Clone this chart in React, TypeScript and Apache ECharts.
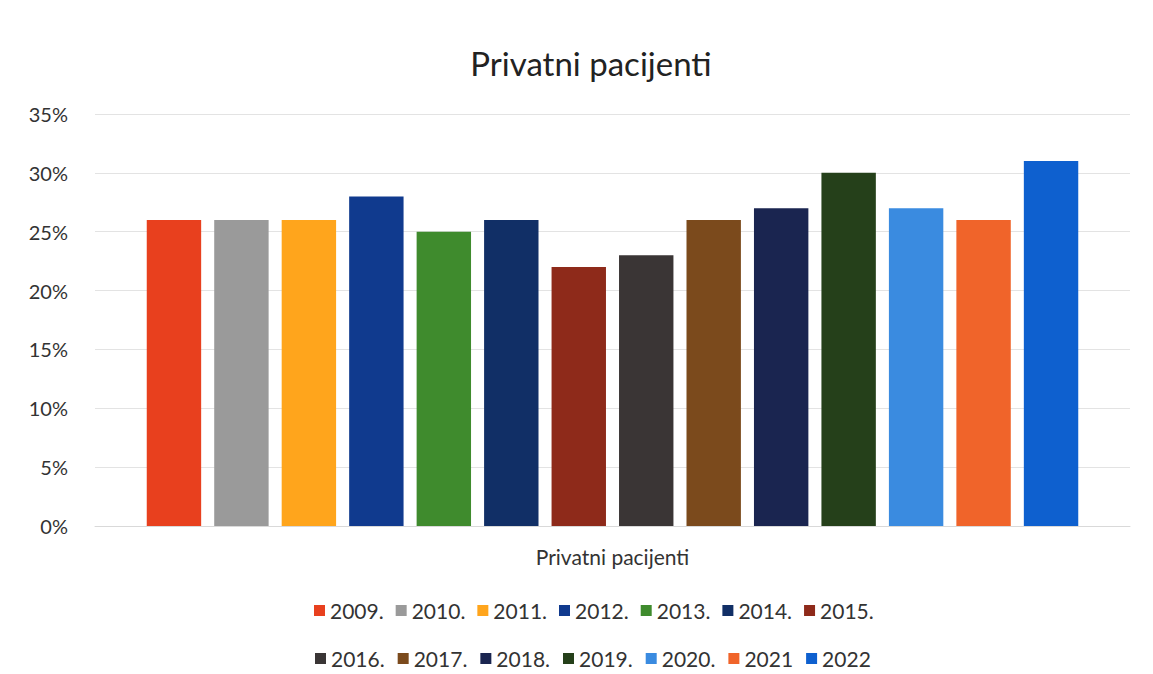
import React, { useEffect, useRef } from "react";
import * as echarts from "echarts";

const categories = ["Privatni pacijenti"];
const years = ["2009.", "2010.", "2011.", "2012.", "2013.", "2014.", "2015.", "2016.", "2017.", "2018.", "2019.", "2020.", "2021", "2022"];
const values = [0.26, 0.26, 0.26, 0.28, 0.25, 0.26, 0.22, 0.23, 0.26, 0.27, 0.30, 0.27, 0.26, 0.31];
const colors = ["#E8401E", "#9A9A9A", "#FFA51C", "#103A8E", "#3F8B2D", "#112F66", "#8E2A1A", "#3A3535", "#7B4A1C", "#1A2550", "#25401A", "#3A8BE0", "#F0642A", "#0E60CF"];
const yTicks = { min: 0, max: 0.35, interval: 0.05 };

const FONT = "Lato, 'Noto Sans', sans-serif";

export default function App() {
  const ref = useRef<HTMLDivElement>(null);
  useEffect(() => {
    document.body.style.margin = "0";
    if (!ref.current) return;
    const chart = echarts.init(ref.current, null, { renderer: "svg" });
    const legendText = { fontSize: 21, color: "#333", fontFamily: FONT };
    chart.setOption({
      animation: false,
      backgroundColor: "#fff",
      title: {
        text: "Privatni pacijenti",
        left: 586,
        textAlign: "center",
        top: 41,
        textStyle: { fontSize: 33, fontWeight: "normal", color: "#222", fontFamily: FONT },
      },
      legend: [
        {
          data: years.slice(0, 7),
          top: 595,
          left: 309,
          icon: "rect",
          itemWidth: 11,
          itemHeight: 11,
          itemGap: 12,
          textStyle: legendText,
        },
        {
          data: years.slice(7),
          top: 643,
          left: 310,
          icon: "rect",
          itemWidth: 11,
          itemHeight: 11,
          itemGap: 13,
          textStyle: legendText,
        },
      ],
      grid: { left: 95, right: 23, top: 114, bottom: 148, containLabel: false },
      xAxis: {
        type: "category",
        data: categories,
        axisLine: { lineStyle: { color: "#d9d9d9" } },
        axisTick: { show: false },
        axisLabel: { fontSize: 21, color: "#333", fontFamily: FONT, margin: 20 },
      },
      yAxis: {
        type: "value",
        min: yTicks.min,
        max: yTicks.max,
        interval: yTicks.interval,
        axisLine: { show: false },
        axisTick: { show: false },
        splitLine: { lineStyle: { color: "#e3e3e3" } },
        axisLabel: {
          fontSize: 20,
          color: "#333",
          fontFamily: FONT,
          margin: 27,
          formatter: (v: number) => Math.round(v * 100) + "%",
        },
      },
      series: years.map((y, i) => ({
        name: y,
        type: "bar",
        data: [values[i]],
        itemStyle: { color: colors[i] },
        barGap: "24%",
        barCategoryGap: "10%",
      })),
    });
    return () => chart.dispose();
  }, []);
  return <div ref={ref} style={{ width: 1153, height: 674 }} />;
}
